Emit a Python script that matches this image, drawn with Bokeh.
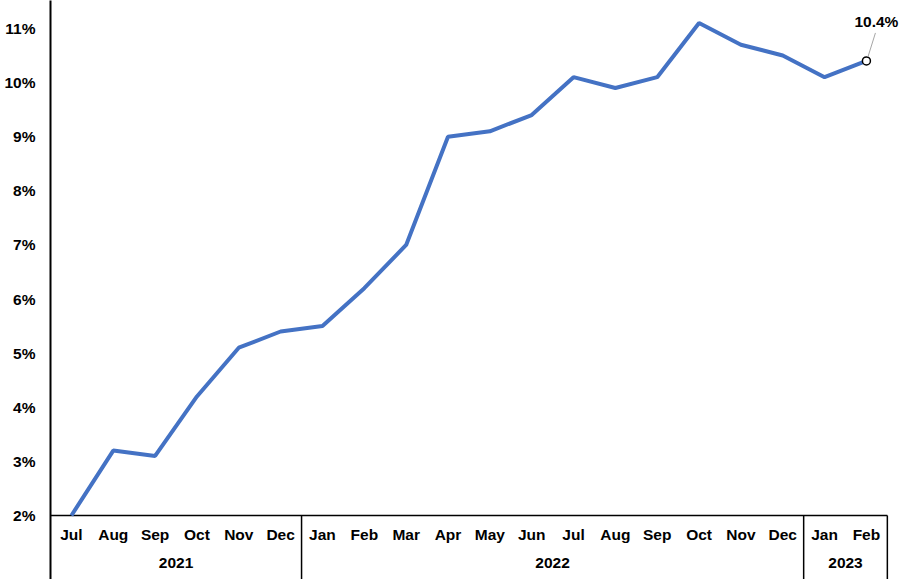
from bokeh.plotting import figure
from bokeh.models import Range1d, FixedTicker, PrintfTickFormatter
from bokeh.core.properties import value
from bokeh.embed import file_html
from bokeh.resources import INLINE

months = ["Jul", "Aug", "Sep", "Oct", "Nov", "Dec",
          "Jan", "Feb", "Mar", "Apr", "May", "Jun", "Jul", "Aug", "Sep", "Oct", "Nov", "Dec",
          "Jan", "Feb"]
rates = [2.0, 3.2, 3.1, 4.2, 5.1, 5.4,
         5.5, 6.2, 7.0, 9.0, 9.1, 9.4, 10.1, 9.9, 10.1, 11.1, 10.7, 10.5,
         10.1, 10.4]
years = ["2021", "2022", "2023"]
months_per_year = [6, 12, 2]
y_ticks = [2, 3, 4, 5, 6, 7, 8, 9, 10, 11]

FONT = value("Liberation Sans")
W, H = 904, 579
LEFT = 50
x_end = len(months) + 0.41
y_lo, y_hi = 0.817, 11.517

p = figure(width=W, height=H, output_backend="svg", toolbar_location=None,
           x_range=Range1d(0, x_end), y_range=Range1d(y_lo, y_hi),
           x_axis_location=None, min_border_left=LEFT, min_border_right=0,
           min_border_top=0, min_border_bottom=0)
p.outline_line_color = None
p.xgrid.grid_line_color = None
p.ygrid.grid_line_color = None

ax = p.yaxis[0]
ax.ticker = FixedTicker(ticks=y_ticks)
ax.formatter = PrintfTickFormatter(format="%d%%")
ax.axis_line_color = "black"
ax.axis_line_width = 2
ax.major_tick_line_color = None
ax.minor_tick_line_color = None
ax.major_label_standoff = 9
ax.major_label_text_font = "Liberation Sans"
ax.major_label_text_font_style = "bold"
ax.major_label_text_font_size = "15.5px"
ax.major_label_text_color = "black"

# pixel -> data conversion for small offsets
px_x = (W - LEFT) / x_end
px_y = H / (y_hi - y_lo)

xs = [i + 0.5 for i in range(len(months))]
base = y_ticks[0]

# category axis line
p.segment(x0=[0], y0=[base], x1=[len(months)], y1=[base], line_color="black", line_width=1.5)

# month labels
p.text(x=xs, y=[base - 19 / px_y] * len(months), text=months, text_font=FONT,
       text_font_style="bold", text_font_size="15.5px", text_align="center",
       text_baseline="middle", text_color="black")

# year groups + separators
bounds = [0]
for n in months_per_year:
    bounds.append(bounds[-1] + n)
centers = [(a + b) / 2 for a, b in zip(bounds[:-1], bounds[1:])]
p.text(x=centers, y=[base - 48 / px_y] * len(years), text=years, text_font=FONT,
       text_font_style="bold", text_font_size="15.5px", text_align="center",
       text_baseline="middle", text_color="black")
sep = bounds[1:]
p.segment(x0=sep, y0=[base] * len(sep), x1=sep, y1=[y_lo] * len(sep),
          line_color="black", line_width=1.5)

# data line
p.line(xs, rates, line_color="#4472C4", line_width=4)
p.scatter([xs[-1]], [rates[-1]], size=8, fill_color="white", line_color="black", line_width=1.5)

# callout for last value
p.segment(x0=[xs[-1] + 1.5 / px_x], y0=[rates[-1] + 4 / px_y],
          x1=[xs[-1] + 9 / px_x], y1=[rates[-1] + 28 / px_y],
          line_color="#A6A6A6", line_width=1)
p.text(x=[xs[-1] + 10 / px_x], y=[rates[-1] + 39 / px_y], text=[f"{rates[-1]:.1f}%"],
       text_font=FONT, text_font_style="bold", text_font_size="15.5px",
       text_align="center", text_baseline="middle", text_color="black")

open("out.html", "w").write(file_html(p, INLINE))
